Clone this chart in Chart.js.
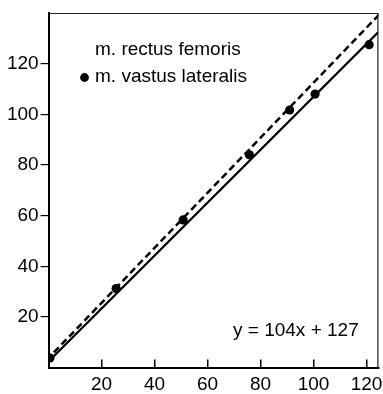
<!DOCTYPE html>
<html>
<head>
<meta charset="utf-8">
<script src="https://cdn.jsdelivr.net/npm/chart.js@4/dist/chart.umd.min.js"></script>
<style>
  body { margin: 0; background: #fff; }
  #wrap { width: 383px; height: 394px; }
</style>
</head>
<body>
<div id="wrap"><canvas id="chart" width="383" height="394"></canvas></div>
<script>
// m. vastus lateralis measured points
const vastusX = [0.5, 25.5, 50.8, 75.8, 91.0, 100.6, 121.0];
const vastusY = [3.8, 31.2, 58.3, 84.0, 101.7, 108.0, 127.5];

// regression lines (end points)
const rectusLineX = [2.0, 124.8];
const rectusLineY = [6.0, 139.4];
const vastusLineX = [1.0, 124.5];
const vastusLineY = [3.5, 132.5];

const xTicks = [20, 40, 60, 80, 100, 120];
const yTicks = [20, 40, 60, 80, 100, 120];

const legendLabels = ["m. rectus femoris", "m. vastus lateralis"];
const equation = "y = 104x + 127";

const toPoints = (xs, ys) => xs.map((x, i) => ({ x: x, y: ys[i] }));

const FONT = "'Liberation Sans', Arial, sans-serif";

// frame + legend + equation text
const extras = {
    id: "extras",
    afterDraw(chart) {
        const ctx = chart.ctx;
        const a = chart.chartArea;
        ctx.save();
        ctx.strokeStyle = "#222";
        ctx.lineWidth = 1.2;
        ctx.beginPath();
        ctx.moveTo(a.left, a.top + 0.5);
        ctx.lineTo(a.right - 0.5, a.top + 0.5);
        ctx.lineTo(a.right - 0.5, a.bottom);
        ctx.stroke();

        ctx.fillStyle = "#000";
        ctx.font = "19px " + FONT;
        ctx.textBaseline = "alphabetic";
        ctx.fillText(legendLabels[0], 95, 55);
        ctx.fillText(legendLabels[1], 95, 81.5);
        ctx.beginPath();
        ctx.arc(84.5, 77.5, 4.4, 0, Math.PI * 2);
        ctx.fill();

        ctx.fillText(equation, 233, 335.5);
        ctx.restore();
    }
};

new Chart(document.getElementById("chart"), {
    type: "scatter",
    data: {
        datasets: [
            {
                label: legendLabels[0],
                data: toPoints(rectusLineX, rectusLineY),
                showLine: true,
                borderColor: "#000",
                borderWidth: 2.5,
                borderDash: [7, 4],
                pointRadius: 0
            },
            {
                label: legendLabels[1] + " fit",
                data: toPoints(vastusLineX, vastusLineY),
                showLine: true,
                borderColor: "#000",
                borderWidth: 2.3,
                pointRadius: 0
            },
            {
                label: legendLabels[1],
                data: toPoints(vastusX, vastusY),
                showLine: false,
                pointRadius: 4.6,
                pointBackgroundColor: "#000",
                pointBorderWidth: 0
            }
        ]
    },
    options: {
        responsive: false,
        devicePixelRatio: 1,
        animation: false,
        layout: { padding: { top: 13, right: 0, left: 0, bottom: 0 } },
        plugins: {
            legend: { display: false },
            tooltip: { enabled: false }
        },
        scales: {
            x: {
                type: "linear",
                min: 0,
                max: 124.5,
                afterBuildTicks: s => { s.ticks = xTicks.map(v => ({ value: v })); },
                afterFit: s => {
                    s.height = 26.4;
                    s.paddingLeft = 0;
                    s.paddingRight = 0;
                },
                grid: { drawOnChartArea: false, drawTicks: true, tickLength: -8, color: "#000", lineWidth: 1.5 },
                border: { color: "#000", width: 2 },
                ticks: { color: "#000", font: { family: FONT, size: 19 }, padding: 14, maxRotation: 0 }
            },
            y: {
                min: 0,
                max: 140,
                afterBuildTicks: s => { s.ticks = yTicks.map(v => ({ value: v })); },
                afterFit: s => {
                    s.width = 48.6;
                    s.paddingTop = 0;
                    s.paddingBottom = 0;
                },
                grid: { drawOnChartArea: false, drawTicks: true, tickLength: 8, color: "#000", lineWidth: 1.2 },
                border: { color: "#000", width: 2 },
                ticks: { color: "#000", font: { family: FONT, size: 19 }, padding: 2 }
            }
        }
    },
    plugins: [extras]
});
</script>
</body>
</html>
